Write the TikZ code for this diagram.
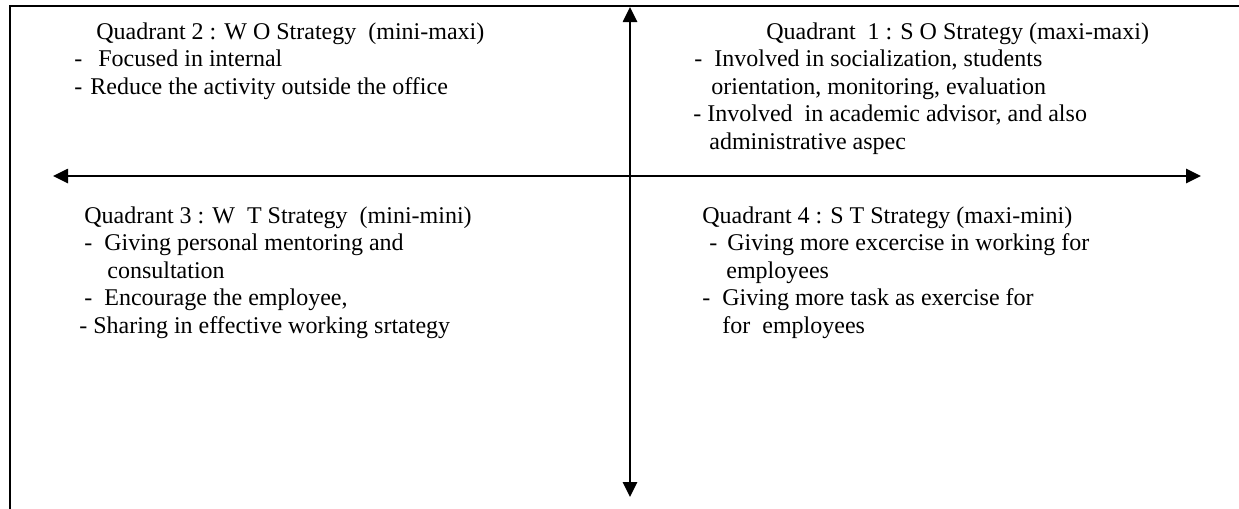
\documentclass[tikz,border=0pt]{standalone}
\usepackage{fontspec}
\setmainfont{Liberation Serif}
\usetikzlibrary{arrows.meta}
\tikzset{
        frame/.style={line width=0.9pt},
        axis/.style={line width=1.3pt, {Triangle[length=7.5pt,width=7pt]}-{Triangle[length=7.5pt,width=7pt]}},
        line/.style={anchor=base west, inner sep=0pt, font=\fontsize{12pt}{13.8pt}\selectfont},
          }

\begin{document}
\begin{tikzpicture}[x=0.5pt,y=-0.5pt]
        \useasboundingbox (0,0) rectangle (1239,509);
        \coordinate (corner) at (10,6);
        \coordinate (topright) at (1239,6);
        \coordinate (bottomleft) at (10,509);
        \coordinate (ytop) at (630,7);
        \coordinate (ybot) at (630,497);
        \coordinate (xlft) at (53,176);
        \coordinate (xrgt) at (1201,176);
        \draw[frame] (topright) -- (corner) -- (bottomleft);
        \draw[axis] (ybot) -- (ytop);
        \draw[axis] (xlft) -- (xrgt);
        % quadrant 2
        \node[line] (q2t) at (96,39) {Quadrant 2 : W O Strategy\ \ (mini-maxi)};
        \node[line] (q2a) at (74,66.5) {-\hspace{8pt}Focused in internal};
        \node[line] (q2b) at (74,94) {-\hspace{4pt}Reduce the activity outside the office};
        % quadrant 1
        \node[line] (q1t) at (766,39) {Quadrant\ \ 1 : S O Strategy (maxi-maxi)};
        \node[line] (q1a) at (694,66.5) {-\hspace{6pt}Involved in socialization, students};
        \node[line] (q1b) at (711,94) {orientation, monitoring, evaluation};
        \node[line] (q1c) at (693,121.5) {- Involved\ \ in academic advisor, and also};
        \node[line] (q1d) at (709,149) {administrative aspec};
        % quadrant 3
        \node[line] (q3t) at (84,223) {Quadrant 3 : W\ \ T Strategy\ \ (mini-mini)};
        \node[line] (q3a) at (84,250.5) {-\hspace{6pt}Giving personal mentoring and};
        \node[line] (q3b) at (107,278) {consultation};
        \node[line] (q3c) at (84,305.5) {-\hspace{6pt}Encourage the employee,};
        \node[line] (q3d) at (79,333) {- Sharing in effective working srtategy};
        % quadrant 4
        \node[line] (q4t) at (702,223) {Quadrant 4 : S T Strategy (maxi-mini)};
        \node[line] (q4a) at (709,250.5) {-\hspace{5pt}Giving more excercise in working for};
        \node[line] (q4b) at (726,278) {employees};
        \node[line] (q4c) at (702,305.5) {-\hspace{6pt}Giving more task as exercise for};
        \node[line] (q4d) at (722,333) {for\ \ employees};
\end{tikzpicture}
\end{document}
